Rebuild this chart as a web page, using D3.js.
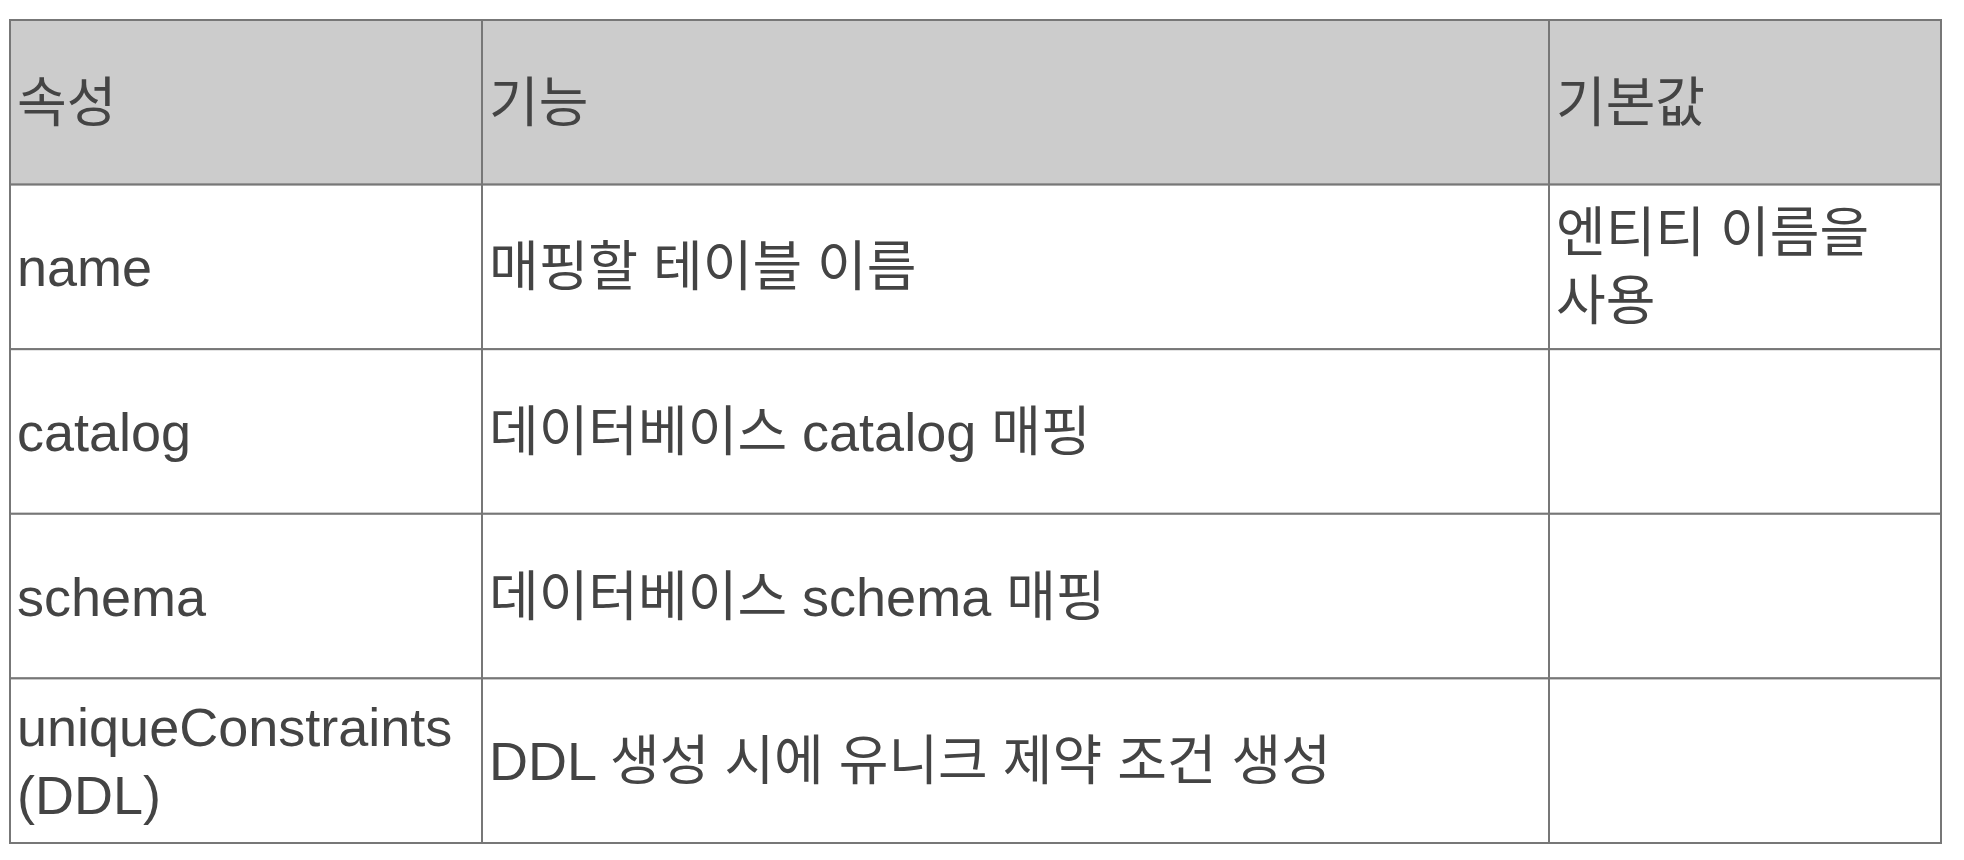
<!DOCTYPE html>
<html>
<head>
<meta charset="utf-8">
<script src="https://cdn.jsdelivr.net/npm/d3@7"></script>
<style>
  body { margin: 0; background: #fff; }
  text { font-family: "Liberation Sans", "Noto Sans CJK KR", sans-serif; fill: #444; }
</style>
</head>
<body>
<div id="table"></div>
<script>
// table content
var headers = ["속성", "기능", "기본값"];
var attrs = ["name", "catalog", "schema", "uniqueConstraints\n(DDL)"];
var funcs = ["매핑할 테이블 이름", "데이터베이스 catalog 매핑", "데이터베이스 schema 매핑", "DDL 생성 시에 유니크 제약 조건 생성"];
var defaults = ["엔티티 이름을\n사용", "", "", ""];

var width = 1964, height = 860;
// note: "top" is a reserved window global, so use other names
var tblLeft = 10, tblTop = 20, tblRight = 1941, tblBottom = 843;
var colX = [tblLeft, 482, 1549, tblRight];
var fontSize = 54, lineH = 68, pad = 7;

var rows = [headers].concat(attrs.map(function(d, i) { return [d, funcs[i], defaults[i]]; }));

var svg = d3.select("#table").append("svg")
  .attr("width", width)
  .attr("height", height);

var yScale = d3.scaleBand()
  .domain(d3.range(rows.length))
  .range([tblTop, tblBottom]);

var row = svg.selectAll(".row")
  .data(rows)
  .enter().append("g")
  .attr("class", "row")
  .attr("transform", function(d, i) { return "translate(0," + yScale(i) + ")"; });

row.selectAll("rect")
  .data(function(d, i) { return d.map(function(v, j) { return {v: v, j: j, head: i === 0}; }); })
  .enter().append("rect")
  .attr("x", function(d) { return colX[d.j]; })
  .attr("width", function(d) { return colX[d.j + 1] - colX[d.j]; })
  .attr("height", yScale.bandwidth())
  .style("fill", function(d) { return d.head ? "#cccccc" : "#fff"; })
  .style("stroke", "#777")
  .style("stroke-width", 2);

row.selectAll("text")
  .data(function(d) { return d.map(function(v, j) { return {lines: v.split("\n"), j: j}; }); })
  .enter().append("text")
  .style("font-size", fontSize + "px")
  .attr("x", function(d) { return colX[d.j] + pad; })
  .attr("y", function(d) {
    return yScale.bandwidth() / 2 - (d.lines.length - 1) * lineH / 2 + fontSize * 0.36;
  })
  .selectAll("tspan")
  .data(function(d) { return d.lines.map(function(l, k) { return {l: l, x: colX[d.j] + pad, k: k}; }); })
  .enter().append("tspan")
  .attr("x", function(d) { return d.x; })
  .attr("dy", function(d) { return d.k === 0 ? 0 : lineH; })
  .text(function(d) { return d.l; });
</script>
</body>
</html>
